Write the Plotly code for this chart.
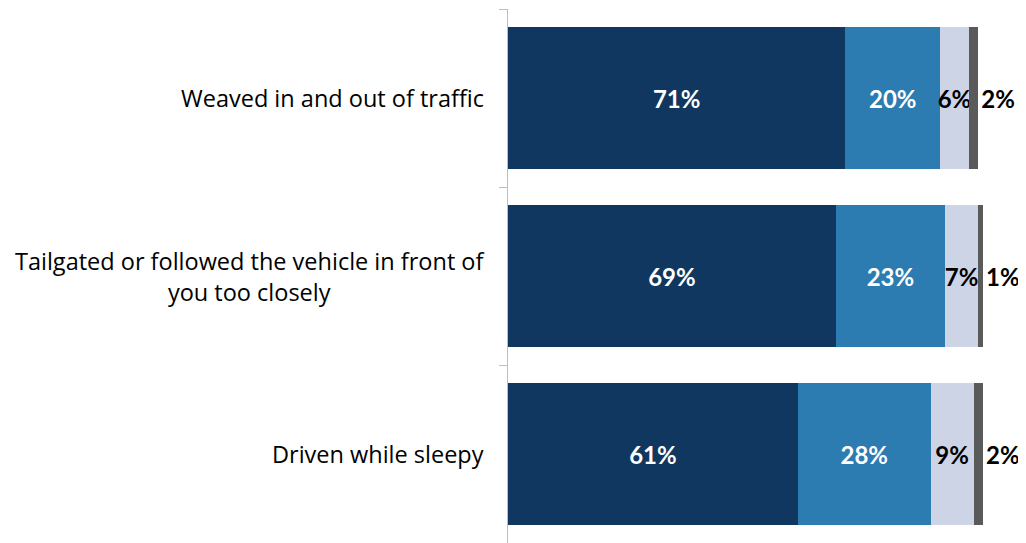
import plotly.graph_objects as go

categories = ["Weaved in and out of traffic",
              "Tailgated or followed the vehicle in front of<br>you too closely",
              "Driven while sleepy"]
seg1 = [71, 69, 61]
seg2 = [20, 23, 28]
seg3 = [6, 7, 9]
seg4 = [2, 1, 2]

colors = ["#10375f", "#2c7bb1", "#cdd4e6", "#5a5a5a"]
text_colors = ["white", "white", "black", "black"]
series = [seg1, seg2, seg3, seg4]

FONT = "Lato"
CAT_FONT = "Open Sans"
fig = go.Figure()
for i, vals in enumerate(series):
    last = i == len(series) - 1
    fig.add_trace(go.Bar(
        y=categories, x=vals, orientation="h",
        marker=dict(color=colors[i], line=dict(width=0)),
        text=[f"{v}%" for v in vals],
        textposition="outside" if last else "inside",
        insidetextanchor="middle",
        textangle=0,
        constraintext="none",
        cliponaxis=False,
        textfont=dict(family=FONT, size=24, color=text_colors[i], weight="bold"),
        outsidetextfont=dict(family=FONT, size=24, color="black", weight="bold"),
        showlegend=False,
        hoverinfo="skip",
    ))

for c in categories:
    fig.add_annotation(x=0, xref="paper", y=c, yref="y", text=c,
                       xanchor="right", xshift=-22, align="center",
                       showarrow=False,
                       font=dict(family=CAT_FONT, size=23.5, color="black"))

# page body has an 8px margin, so the figure is offset by 8px
fig.update_layout(
    barmode="stack", bargap=0.2,
    width=1018, height=535,
    margin=dict(l=500, r=43, t=1, b=0),
    plot_bgcolor="white", paper_bgcolor="white",
    xaxis=dict(range=[0, 100], visible=False),
    yaxis=dict(range=[2.5, -0.5], showline=True, linecolor="#bfbfbf", linewidth=1,
               ticks="outside", ticklen=8, tickcolor="#bfbfbf", tickson="boundaries",
               showticklabels=False, showgrid=False, zeroline=False),
)
fig.write_html("out.html")
